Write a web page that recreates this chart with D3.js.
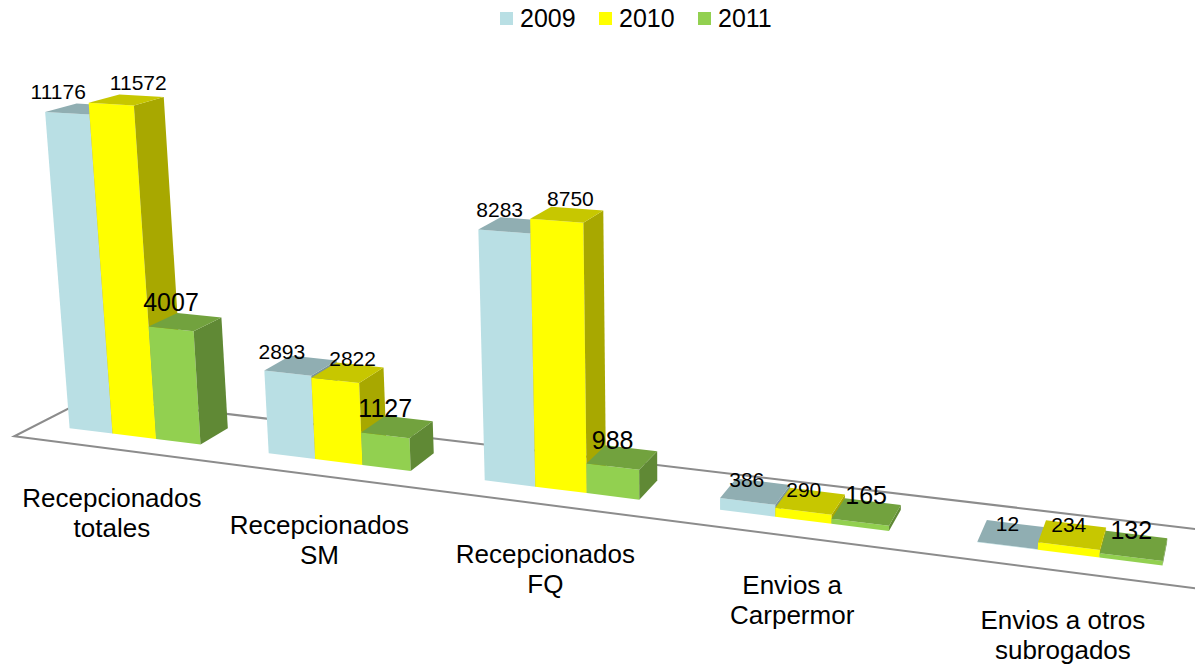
<!DOCTYPE html>
<html>
<head>
<meta charset="utf-8">
<script src="https://cdn.jsdelivr.net/npm/d3@7"></script>
<style>
  body { margin: 0; background: #ffffff; }
  svg { display: block; font-family: 'Liberation Sans', Arial, sans-serif; }
</style>
</head>
<body>
<script>
// #region DATA
var categories = ["Recepcionados totales", "Recepcionados SM", "Recepcionados FQ", "Envios a Carpermor", "Envios a otros subrogados"];
var years = ["2009", "2010", "2011"];
var values2009 = [11176, 2893, 8283, 386, 12];
var values2010 = [11572, 2822, 8750, 290, 234];
var values2011 = [4007, 1127, 988, 165, 132];
var yearColors = ["#b9dfe4", "#ffff00", "#92d050"];
// #endregion

var width = 1195, height = 667;

var svg = d3.select("body")
    .append("svg")
    .attr("width", width)
    .attr("height", height);

// #region CAMERA
// simple pinhole camera looking at the chart floor from the front right
var deg = Math.PI / 180;
var yaw = 19.7 * deg, pitch = 13 * deg, roll = -0.43 * deg;
var focal = 1890, cx = 625, cy = 213;
var eye = [-12.04, -4.30, 37.16];   // floor front-left corner, camera space

var axU = [Math.cos(yaw), -Math.sin(yaw) * Math.sin(pitch), -Math.sin(yaw) * Math.cos(pitch)];
var axH = [0, Math.cos(pitch), -Math.sin(pitch)];
var axW = [Math.sin(yaw), Math.cos(yaw) * Math.sin(pitch), Math.cos(yaw) * Math.cos(pitch)];

function project(u, h, w) {
    var p = [0, 1, 2].map(k => eye[k] + u * axU[k] + h * axH[k] + w * axW[k]);
    var sx = focal * p[0] / p[2];
    var sy = -focal * p[1] / p[2];
    return [cx + sx * Math.cos(roll) - sy * Math.sin(roll),
            cy + sx * Math.sin(roll) + sy * Math.cos(roll)];
}

function face(pts) {
    return d3.line()(pts.map(p => project(p[0], p[1], p[2]))) + "Z";
}
// #endregion

// #region SCALES
var floorLength = 22.5, floorDepth = 2.5, barFront = 0.75, barBack = 1.75;

var uScale = d3.scaleBand()
    .domain(categories)
    .range([0, floorLength])
    .paddingInner(1 / 3)
    .paddingOuter(1 / 6);

var sScale = d3.scaleBand()
    .domain(years)
    .range([0, uScale.bandwidth()]);

var hScale = d3.scaleLinear()
    .domain([0, 12000])
    .range([0, 6.85]);

var colorScale = d3.scaleOrdinal().domain(years).range(yearColors);

var series = [values2009, values2010, values2011];
var barData = [];
categories.forEach(function(c, i) {
    years.forEach(function(y, j) {
        barData.push({
            cat: c, idx: i, year: y, j: j, value: series[j][i],
            u0: uScale(c) + sScale(y),
            u1: uScale(c) + sScale(y) + sScale.bandwidth()
        });
    });
});
// #endregion

// #region FLOOR
svg.append("path")
    .attr("d", face([[0, 0, 0], [floorLength, 0, 0], [floorLength, 0, floorDepth], [0, 0, floorDepth]]))
    .attr("fill", "none")
    .attr("stroke", "#8c8c8c")
    .attr("stroke-width", 2);
// #endregion

// #region BARS
var bars = svg.append("g")
    .attr("id", "bars")
    .selectAll("g")
    .data(barData)
    .enter()
    .append("g");

bars.append("path")   // front
    .attr("d", d => { var h = hScale(d.value);
        return face([[d.u0, 0, barFront], [d.u1, 0, barFront], [d.u1, h, barFront], [d.u0, h, barFront]]); })
    .attr("fill", d => colorScale(d.year));

bars.append("path")   // right side
    .attr("d", d => { var h = hScale(d.value);
        return face([[d.u1, 0, barFront], [d.u1, 0, barBack], [d.u1, h, barBack], [d.u1, h, barFront]]); })
    .attr("fill", d => d3.rgb(colorScale(d.year)).darker(1.165));

bars.append("path")   // top
    .attr("d", d => { var h = hScale(d.value);
        return face([[d.u0, h, barFront], [d.u1, h, barFront], [d.u1, h, barBack], [d.u0, h, barBack]]); })
    .attr("fill", d => d3.rgb(colorScale(d.year)).darker(0.7));
// #endregion

// #region VALUE LABELS
var labels = svg.append("g")
    .attr("id", "value-labels")
    .selectAll("text")
    .data(barData)
    .enter()
    .append("text")
        .text(d => d.value)
        .attr("x", d => project((d.u0 + d.u1) / 2, hScale(d.value), barFront)[0])
        .attr("y", d => project((d.u0 + d.u1) / 2, hScale(d.value), barFront)[1] - (d.j == 2 ? 27 : 22))
        .attr("text-anchor", "middle")
        .attr("dominant-baseline", "central")
        .attr("font-size", d => d.j == 2 ? "25px" : "21px")
        .attr("fill", "#000");

// push apart labels that collide inside a group
labels.each(function(d) {
    var b = this.getBBox();
    d.lx = +this.getAttribute("x");
    d.ly = +this.getAttribute("y");
    d.lw = b.width;
    d.lh = b.height;
});
for (var i = 0; i < categories.length; i++) {
    for (var j = 0; j < years.length - 1; j++) {
        var a = barData[i * 3 + j], b = barData[i * 3 + j + 1];
        if (Math.abs(a.ly - b.ly) < (a.lh + b.lh) / 2) {
            var overlap = (a.lx + a.lw / 2 + 24) - (b.lx - b.lw / 2);
            if (overlap > 0) {
                a.lx -= overlap / 4;
                b.lx += overlap * 3 / 4;
            }
        }
    }
}
labels.attr("x", d => d.lx);
// #endregion

// #region CATEGORY LABELS
var catLabels = svg.append("g")
    .attr("id", "category-labels")
    .selectAll("text")
    .data(categories)
    .enter()
    .append("text")
        .attr("text-anchor", "middle")
        .attr("font-size", "26px")
        .attr("fill", "#000")
        .attr("x", d => project(uScale(d) + uScale.bandwidth() / 2, 0, 0)[0])
        .attr("y", d => project(uScale(d) + uScale.bandwidth() / 2, 0, 0)[1] + 58);

// word wrap to about 200px
catLabels.each(function(d) {
    var text = d3.select(this);
    var x = text.attr("x");
    var words = d.split(" ");
    var lines = [], line = [];
    var probe = text.append("tspan");
    words.forEach(function(w) {
        var test = line.concat([w]).join(" ");
        probe.text(test);
        if (probe.node().getComputedTextLength() > 200 && line.length) {
            lines.push(line.join(" "));
            line = [w];
        } else {
            line.push(w);
        }
    });
    lines.push(line.join(" "));
    probe.remove();
    lines.forEach(function(l, k) {
        text.append("tspan")
            .attr("x", x)
            .attr("dy", k == 0 ? 0 : 30)
            .text(l);
    });
});
// #endregion

// #region LEGEND
var legendLeft = 500, itemStep = 99;
var legend = svg.append("g")
    .attr("id", "legend")
    .selectAll("g")
    .data(years)
    .enter()
    .append("g")
        .attr("transform", (d, i) => "translate(" + (legendLeft + i * itemStep) + ",0)");

legend.append("rect")
    .attr("x", 0)
    .attr("y", 12)
    .attr("width", 13)
    .attr("height", 13)
    .attr("fill", d => colorScale(d));

legend.append("text")
    .text(d => d)
    .attr("x", 20)
    .attr("y", 27)
    .attr("font-size", "25px")
    .attr("fill", "#000");
// #endregion
</script>
</body>
</html>
